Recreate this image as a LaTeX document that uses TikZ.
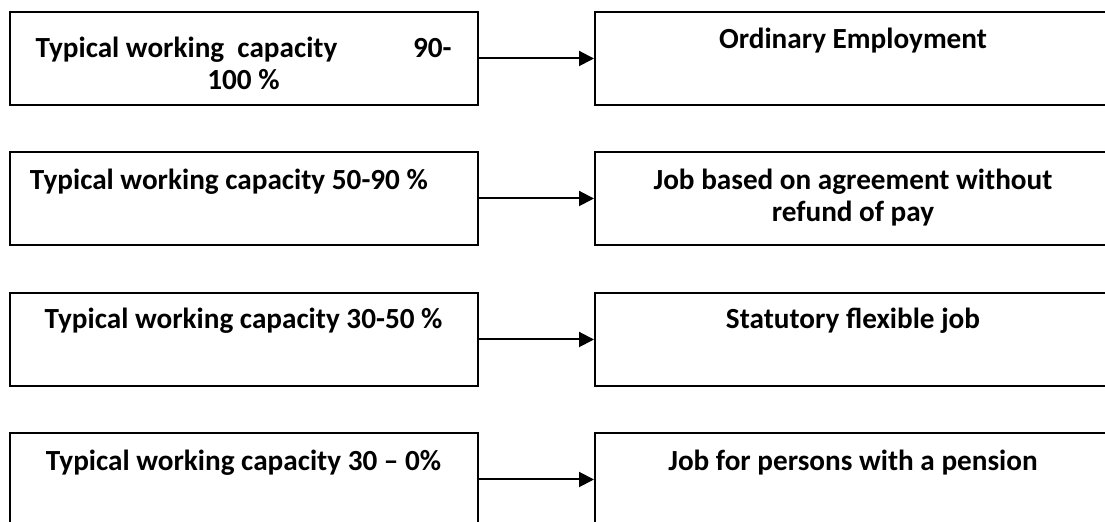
\documentclass[tikz,border=0pt]{standalone}
\usepackage{fontspec}
\setmainfont{Carlito}
\usetikzlibrary{arrows.meta}
\begin{document}
\begin{tikzpicture}[x=0.5pt,y=-0.5pt,line width=1pt,
  font=\bfseries\fontsize{14.6pt}{16.3pt}\selectfont,
  box/.style={draw,rectangle,minimum height=46.5pt,inner sep=0pt,anchor=north west},
  lbox/.style={box,minimum width=234pt},
  rbox/.style={box,minimum width=259pt},
  txt/.style={anchor=base,align=center,inner sep=0pt},
  arr/.style={line width=1pt,-{Triangle[length=7.5pt,width=7.5pt]}}]
\useasboundingbox (0,0) rectangle (1105,522);
\clip (0,0) rectangle (1105,522);
% left column
\node[lbox] (l1) at (9,11) {};
\node[lbox] (l2) at (9,151) {};
\node[lbox] (l3) at (9,292) {};
\node[lbox] (l4) at (9,432) {};
% right column
\node[rbox] (r1) at (594,11) {};
\node[rbox] (r2) at (594,151) {};
\node[rbox] (r3) at (594,292) {};
\node[rbox] (r4) at (594,432) {};
% texts (base = last line)
\node[txt] (t1) at (243.5,90) {\hbox to 208pt{Typical working\ \ capacity\hfill 90-}\\100 \%};
\node[txt,anchor=base west] (t2) at (29,190) {Typical working capacity 50-90 \%};
\node[txt] (t3) at (243.5,329) {Typical working capacity 30-50 \%};
\node[txt] (t4) at (243.5,471) {Typical working capacity 30 -- 0\%};
\node[txt] (s1) at (853,49) {Ordinary Employment};
\node[txt] (s2) at (853,222) {Job based on agreement without\\refund of pay};
\node[txt] (s3) at (853,329) {Statutory flexible job};
\node[txt] (s4) at (853,471) {Job for persons with a pension};
% arrows
\draw[arr] (l1.east) -- (r1.west);
\draw[arr] (l2.east) -- (r2.west);
\draw[arr] (l3.east) -- (r3.west);
\draw[arr] (l4.east) -- (r4.west);
\end{tikzpicture}
\end{document}
